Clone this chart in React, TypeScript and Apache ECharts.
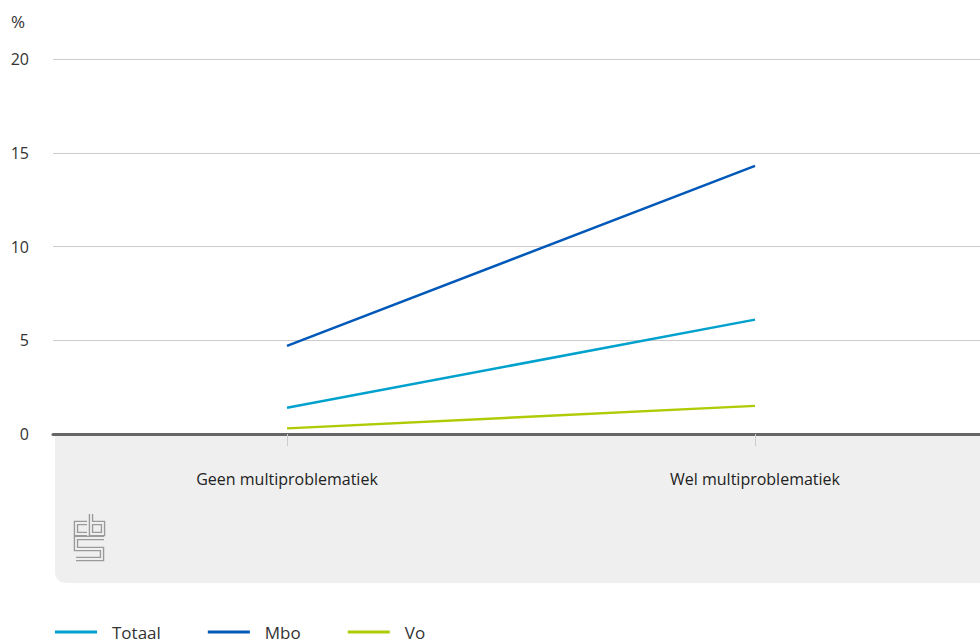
import React, { useEffect, useRef } from "react";
import * as echarts from "echarts";

const categories = ["Geen multiproblematiek", "Wel multiproblematiek"];
const totaal = [1.4, 6.1];
const mbo = [4.7, 14.3];
const vo = [0.3, 1.5];
const seriesNames = ["Totaal", "Mbo", "Vo"];
const colors = ["#00a1cd", "#0058b8", "#afcb05"];

const BG = "#efefef";
const LOGO_STROKE = "#9a9a9a";

function logoLine(points: number[][]) {
  return [
    { type: "polyline", z: -5, shape: { points }, style: { stroke: LOGO_STROKE, lineWidth: 4.5, fill: null } },
    { type: "polyline", z: -4, shape: { points }, style: { stroke: BG, lineWidth: 1.8, fill: null } },
  ];
}

export default function App() {
  const ref = useRef<HTMLDivElement>(null);
  useEffect(() => {
    document.body.style.margin = "0";
    const chart = echarts.init(ref.current!, null, { renderer: "svg" });
    const font = "'Open Sans', 'Noto Sans', sans-serif";
    const data = [totaal, mbo, vo];
    chart.setOption({
      animation: false,
      textStyle: { fontFamily: font },
      grid: { left: 53, top: 59, width: 936, height: 375, containLabel: false, outerBoundsMode: "none" },
      graphic: [
        {
          type: "rect",
          z: -10,
          shape: { x: 55, y: 435, width: 935, height: 148, r: [0, 0, 0, 10] },
          style: { fill: BG },
        },
        {
          type: "text",
          x: 11,
          y: 13,
          style: { text: "%", fill: "#333", font: `17px ${font}` },
        },
        ...logoLine([[87, 523], [76, 523], [76, 534], [87, 534]]),
        ...logoLine([[91, 514], [91, 534], [103, 534], [103, 523], [91, 523]]),
        ...logoLine([[104, 538], [76, 538], [76, 549], [102, 549], [102, 559], [76, 559]]),
      ],
      legend: {
        left: 55,
        top: 623,
        padding: 0,
        icon: "rect",
        itemWidth: 42,
        itemHeight: 3,
        itemGap: 47,
        textStyle: { fontSize: 17, lineHeight: 18, color: "#333", fontFamily: font, padding: [0, 0, 0, 10] },
        data: seriesNames,
      },
      xAxis: {
        type: "category",
        data: categories,
        boundaryGap: true,
        axisLine: { lineStyle: { color: "#666", width: 3 } },
        axisTick: { show: true, alignWithLabel: true, length: 12, lineStyle: { color: "#ccc", width: 1 } },
        axisLabel: { margin: 37, fontSize: 16, color: "#222", fontFamily: font },
        splitLine: { show: false },
      },
      yAxis: {
        type: "value",
        min: 0,
        max: 20,
        interval: 5,
        axisLine: { show: false },
        axisTick: { show: false },
        axisLabel: { margin: 24, fontSize: 16, color: "#333", fontFamily: font },
        splitLine: { lineStyle: { color: "#ccc", width: 1 } },
      },
      series: seriesNames.map((name, i) => ({
        name,
        type: "line",
        data: data[i],
        symbol: "none",
        lineStyle: { color: colors[i], width: 2.5 },
        itemStyle: { color: colors[i] },
      })),
    });
    return () => chart.dispose();
  }, []);
  return <div ref={ref} style={{ width: 980, height: 644 }} />;
}
